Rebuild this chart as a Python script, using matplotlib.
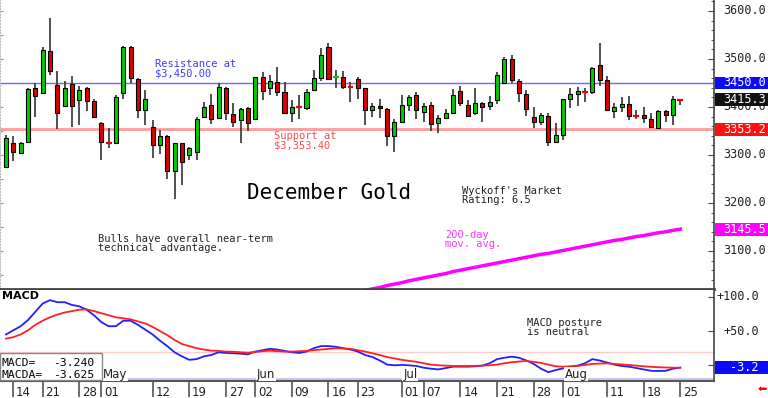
import numpy as np
import pandas as pd
import matplotlib
matplotlib.use("Agg")
import matplotlib.pyplot as plt
import matplotlib.transforms as mtransforms
from matplotlib.patches import Rectangle

# trgovacki dani 11.4. - 25.8.2025 (bez praznika)
holidays = ["2025-04-18", "2025-05-26", "2025-06-19", "2025-07-04"]
days = pd.bdate_range("2025-04-11", "2025-08-25")
days = days[~days.isin(pd.to_datetime(holidays))]

opens = [3274, 3324, 3304, 3328, 3440, 3430, 3517, 3446, 3402, 3447,
         3415, 3440, 3412, 3366, 3327, 3326, 3430, 3526, 3458, 3394,
         3359, 3321, 3340, 3267, 3324, 3300, 3307, 3380, 3404, 3378,
         3439, 3385, 3373, 3397, 3376, 3463, 3439, 3452, 3432, 3388,
         3401, 3397, 3435, 3460, 3524, 3461, 3463, 3442, 3458, 3439,
         3394, 3402, 3396, 3340, 3369, 3404, 3425, 3390, 3405, 3367,
         3378, 3387, 3434, 3405, 3387, 3409, 3403, 3415, 3451, 3501,
         3454, 3428, 3380, 3369, 3381, 3328, 3342, 3416, 3428, 3433,
         3431, 3487, 3456, 3392, 3399, 3406, 3382, 3383, 3376, 3356,
         3392, 3383, 3416.5]
highs = [3342, 3340, 3328, 3439, 3451, 3524, 3585, 3476, 3455, 3465,
         3444, 3441, 3416, 3369, 3356, 3426, 3527, 3527, 3460, 3435,
         3373, 3352, 3342, 3326, 3326, 3317, 3380, 3411, 3428, 3451,
         3441, 3408, 3397, 3399, 3463, 3472, 3467, 3484, 3453, 3415,
         3425, 3437, 3477, 3522, 3533, 3477, 3474, 3453, 3463, 3440,
         3408, 3417, 3397, 3376, 3425, 3425, 3432, 3408, 3411, 3383,
         3395, 3437, 3444, 3415, 3440, 3411, 3422, 3472, 3505, 3508,
         3458, 3435, 3401, 3388, 3388, 3366, 3416, 3439, 3442, 3439,
         3484, 3533, 3465, 3409, 3421, 3423, 3394, 3401, 3388, 3394,
         3394, 3422, 3417]
lows = [3272, 3288, 3302, 3326, 3380, 3428, 3467, 3354, 3399, 3358,
        3363, 3392, 3378, 3290, 3314, 3323, 3417, 3451, 3378, 3362,
        3293, 3302, 3251, 3208, 3238, 3290, 3290, 3378, 3364, 3374,
        3373, 3358, 3324, 3349, 3375, 3415, 3425, 3422, 3385, 3369,
        3376, 3394, 3434, 3455, 3456, 3439, 3437, 3411, 3416, 3362,
        3380, 3378, 3319, 3307, 3368, 3392, 3376, 3369, 3351, 3346,
        3376, 3385, 3402, 3382, 3383, 3369, 3394, 3406, 3449, 3449,
        3411, 3381, 3356, 3362, 3319, 3324, 3331, 3397, 3402, 3411,
        3428, 3444, 3393, 3378, 3390, 3373, 3376, 3367, 3356, 3354,
        3368, 3362, 3404]
closes = [3335, 3307, 3324, 3437, 3422, 3519, 3476, 3388, 3440, 3402,
          3435, 3412, 3380, 3328, 3326, 3420, 3526, 3460, 3394, 3417,
          3321, 3340, 3267, 3324, 3286, 3314, 3376, 3401, 3376, 3441,
          3387, 3369, 3395, 3367, 3462, 3434, 3454, 3432, 3387, 3401,
          3400, 3432, 3460, 3508, 3458, 3462, 3441, 3441, 3439, 3394,
          3402, 3397, 3340, 3369, 3405, 3421, 3394, 3402, 3364, 3378,
          3387, 3425, 3408, 3382, 3408, 3401, 3411, 3467, 3501, 3456,
          3430, 3395, 3369, 3383, 3328, 3342, 3416, 3427, 3434, 3432,
          3482, 3457, 3394, 3399, 3406, 3382, 3381, 3378, 3358, 3392,
          3383, 3416, 3415.3]

# 200-dnevni prosjek (vidljiv od 48. dana)
ma_start = 48
ma200 = [3014, 3018, 3021, 3024, 3028, 3031, 3034, 3038, 3041, 3044,
         3047, 3050, 3053, 3057, 3060, 3063, 3066, 3069, 3072, 3075,
         3078, 3081, 3084, 3087, 3090, 3093, 3095, 3098, 3101, 3104,
         3107, 3110, 3113, 3116, 3119, 3122, 3124, 3127, 3130, 3132,
         3135, 3138, 3140, 3143, 3145.5]

macd = [45, 51, 57, 66, 78, 90, 95, 92, 92, 88,
        86, 81, 73, 63, 57, 57, 65, 65, 59, 52,
        45, 36, 28, 19, 13, 8, 9, 13, 15, 19,
        18, 17.5, 17, 16, 20, 22, 24, 23, 21, 19,
        18, 20, 25, 28, 28, 27, 25, 23, 20, 15,
        12, 7, 1, 0, 0.5, 0, -1, -3.5, -5, -6,
        -4, -2, -2, -2, -1.5, -0.5, 3, 9, 11, 12.6,
        11, 7, 2, -5, -10, -7, -4.4, -2, -0.5, 3,
        9, 7, 4, 1, -1, -2, -4, -6, -8, -8.3,
        -8, -5, -3.24]
macda = [39, 41, 45, 51, 59, 65, 70, 74, 77, 79,
         81, 81.6, 79, 76, 73, 70, 68.5, 67, 64, 61,
         56, 50, 44, 37, 31, 28, 25, 23, 21.4, 21,
         20, 19.8, 19, 18.4, 19.5, 20.5, 21.4, 20.5, 20, 20,
         20.5, 21, 22, 23, 24, 24.8, 24.5, 24, 22, 20,
         17.5, 15, 12, 10, 8, 6.5, 5, 3, 1, 0,
         -0.5, -1, -1, -1, -0.8, -0.5, 0, 1, 3, 4.4,
         5.5, 6.3, 5, 3.5, 1, -1.5, -2, -1.5, -1, 0.5,
         2, 2.5, 2.9, 2, 1.2, 0.5, -0.5, -1.5, -2.2, -2.8,
         -3.2, -3.5, -3.625]

resistance = 3450.00
support = 3353.40
price_ticks = [3100, 3200, 3300, 3400, 3500, 3600]
macd_ticks = [50, 100]
tick_dates = ["2025-04-14", "2025-04-21", "2025-04-28", "2025-05-01", "2025-05-12",
              "2025-05-19", "2025-05-27", "2025-06-02", "2025-06-09", "2025-06-16",
              "2025-06-23", "2025-07-01", "2025-07-07", "2025-07-14", "2025-07-21",
              "2025-07-28", "2025-08-01", "2025-08-11", "2025-08-18", "2025-08-25"]
month_starts = ["2025-05-01", "2025-06-02", "2025-07-01", "2025-08-01"]
month_names = ["May", "Jun", "Jul", "Aug"]

MONO = "DejaVu Sans Mono"
W, H = 768, 398


def fx(px):
    return px / W


def fy(py):
    return 1 - py / H


fig = plt.figure(figsize=(W / 100, H / 100), dpi=100)
ax = fig.add_axes([0, fy(289), fx(714), 1 - fy(289)])
axm = fig.add_axes([0, fy(381), fx(714), fy(290) - fy(381)])

x = np.arange(len(days))
o = np.array(opens)
h = np.array(highs)
l = np.array(lows)
c = np.array(closes)
up = c >= o
doji = np.abs(c - o) < 1.6

# svijece
ax.vlines(x, l, h, color="#333333", lw=1.2, zorder=2)
body = ~doji
ax.bar(x[body], np.abs(c - o)[body], bottom=np.minimum(o, c)[body], width=0.55,
       color=np.where(up[body], "#00cc00", "#dd0000"), edgecolor="black", lw=0.8, zorder=3)
ax.hlines(c[doji], x[doji] - 0.4, x[doji] + 0.4,
          colors=np.where(up[doji], "#00cc00", "#ee0000"), lw=1.6, zorder=3)

ax.axhline(resistance, color="#6a6aff", lw=1, zorder=1)
ax.axhline(support, color="#ff9a9a", lw=2, zorder=1)
ax.plot(x[ma_start:], ma200, color="#ff00ff", lw=2.5, zorder=2)

ax.set_xlim(-0.82, 96.6)
ax.set_ylim(3020.8, 3622.9)
ax.set_xticks([])
ax.spines["top"].set_visible(False)
ax.spines["left"].set_color("#bbbbbb")
ax.spines["left"].set_linestyle(":")
ax.spines["left"].set_linewidth(0.8)
ax.spines["bottom"].set_color("#444444")
ax.spines["bottom"].set_linewidth(2)
ax.spines["right"].set_color("#444444")
ax.spines["right"].set_linewidth(1.2)
ax.yaxis.tick_right()
ax.set_yticks(price_ticks)
ax.set_yticks(np.arange(3040, 3621, 20), minor=True)
ax.tick_params(axis="y", which="both", direction="in", labelright=False,
               color="#444444", length=4)
ax.tick_params(axis="y", which="minor", length=2.5)

# sitne oznake na lijevom rubu
axl = ax.secondary_yaxis("left")
axl.set_yticks(np.arange(3050, 3621, 50))
axl.tick_params(direction="in", length=2.5, color="#999999", labelleft=False)
axl.spines["left"].set_visible(False)

bt = mtransforms.blended_transform_factory(fig.transFigure, ax.transData)
for v in price_ticks:
    ax.text(fx(723), v, "%.1f" % v, transform=bt, fontsize=8.5, family=MONO,
            color="#222222", va="center", ha="left", clip_on=False, zorder=4)

price_boxes = [(resistance, "#0a0aff"), (closes[-1], "#111111"),
               (3353.2, "#ff1010"), (ma200[-1], "#ff00ff")]
for v, col in price_boxes:
    ax.add_patch(Rectangle((fx(715), v - 13.5), fx(53), 27, transform=bt,
                           facecolor=col, edgecolor="none", clip_on=False, zorder=5))
    ax.text(fx(723), v, "%.1f" % v, transform=bt, fontsize=8.5, family=MONO,
            color="white", va="center", ha="left", clip_on=False, zorder=6)

# tekstovi
txt = dict(family=MONO, fontsize=7.5, va="top", ha="left", linespacing=0.9)
fig.text(fx(155), fy(59), "Resistance at\n$3,450.00", color="#3b3bff", **txt)
fig.text(fx(274), fy(131), "Support at\n$3,353.40", color="#ff4848", **txt)
fig.text(fx(462), fy(186), "Wyckoff's Market\nRating: 6.5", color="#222222", **txt)
fig.text(fx(98), fy(234), "Bulls have overall near-term\ntechnical advantage.", color="#222222", **txt)
fig.text(fx(445), fy(230), "200-day\nmov. avg.", color="#ff33ff", **txt)
fig.text(fx(527), fy(318), "MACD posture\nis neutral", color="#222222", **txt)
fig.text(fx(247), fy(183), "December Gold", family=MONO, fontsize=15, color="black",
         va="top", ha="left")

# MACD
axm.plot(x, macd, color="#1f1fff", lw=1.3, zorder=3)
axm.plot(x, macda, color="#ff2020", lw=1.3, zorder=3)
axm.axhline(19.4, color="#ffcccc", lw=1, zorder=1)
axm.axhline(-20.5, color="#c8c8f0", lw=2.2, zorder=1)
axm.set_xlim(-0.82, 96.6)
axm.set_ylim(-22.9, 109.8)
for s in ["top", "left"]:
    axm.spines[s].set_visible(False)
axm.spines["bottom"].set_color("#555555")
axm.spines["bottom"].set_linewidth(1.5)
axm.spines["right"].set_color("#444444")
axm.spines["right"].set_linewidth(1.2)
axm.yaxis.tick_right()
axm.set_yticks([0] + macd_ticks)
axm.tick_params(axis="y", direction="in", labelright=False, color="#444444", length=4)

bm = mtransforms.blended_transform_factory(fig.transFigure, axm.transData)
for v in macd_ticks:
    axm.text(fx(759), v, "+%.1f" % v, transform=bm, fontsize=8.5, family=MONO,
             color="#222222", va="center", ha="right", clip_on=False)
axm.add_patch(Rectangle((fx(715), macd[-1] - 9.5), fx(53), 19, transform=bm,
                        facecolor="#0a0aff", edgecolor="none", clip_on=False, zorder=5))
axm.text(fx(759), macd[-1], "%.1f" % macd[-1], transform=bm, fontsize=8.5, family=MONO,
         color="white", va="center", ha="right", clip_on=False, zorder=6)

pos = [days.get_loc(pd.Timestamp(d)) for d in tick_dates]
axm.set_xticks(pos, [pd.Timestamp(d).strftime("%d") for d in tick_dates])
axm.tick_params(axis="x", direction="out", length=11.5, width=1.2, color="#555555",
                pad=-8, labelsize=8.5, labelcolor="#222222")
off = mtransforms.ScaledTranslation(2 / 72, 0, fig.dpi_scale_trans)
for lbl in axm.get_xticklabels():
    lbl.set_ha("left")
    lbl.set_va("top")
    lbl.set_transform(lbl.get_transform() + off)

bx = mtransforms.blended_transform_factory(axm.transData, axm.transAxes)
for d, name in zip(month_starts, month_names):
    axm.text(days.get_loc(pd.Timestamp(d)) + 0.2, 0.005, name, transform=bx,
             fontsize=8.5, color="#222222", va="bottom", ha="left", zorder=4,
             bbox=dict(facecolor="white", edgecolor="none", pad=0.6))

fig.text(fx(2), fy(291), "MACD", fontsize=8, weight="bold", va="top", ha="left")

fig.add_artist(Rectangle((0, fy(380)), fx(102), fy(353) - fy(380), transform=fig.transFigure,
                         facecolor="white", edgecolor="#888888", lw=1))
fig.text(fx(1), fy(363.5), "MACD=", family=MONO, fontsize=8.2, va="center", ha="left")
fig.text(fx(1), fy(375), "MACDA=", family=MONO, fontsize=8.2, va="center", ha="left")
fig.text(fx(94), fy(363.5), "%.3f" % macd[-1], family=MONO, fontsize=8.2, va="center", ha="right")
fig.text(fx(94), fy(375), "%.3f" % macda[-1], family=MONO, fontsize=8.2, va="center", ha="right")

fig.text(fx(762), fy(390), "\u2b05", color="red", fontsize=8, ha="center", va="center")

fig.savefig("out.png", dpi=100)
